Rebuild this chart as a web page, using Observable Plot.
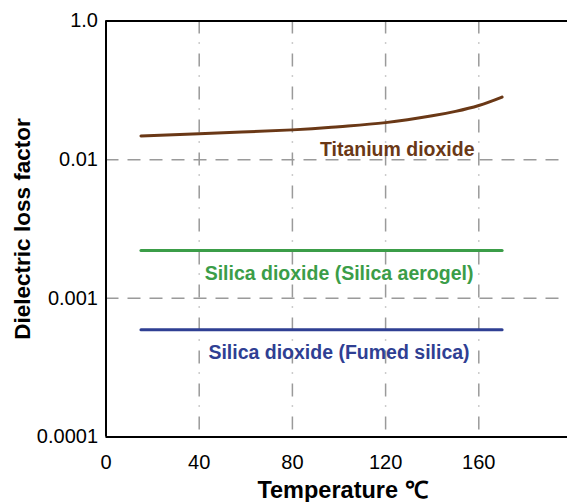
<!DOCTYPE html>
<html>
<head>
<meta charset="utf-8">
<script src="https://cdn.jsdelivr.net/npm/d3@7"></script>
<script src="https://cdn.jsdelivr.net/npm/@observablehq/plot@0.6"></script>
<style>
  body { margin: 0; background: #fff; }
  svg { font-family: "Liberation Sans", Arial, Helvetica, sans-serif; }
</style>
</head>
<body>
<div id="chart"></div>
<script>
// Dielectric loss factor versus temperature (°C)
const temperature = [15, 40, 80, 100, 120, 140, 150, 160, 170];
const titaniumDioxide = [0.0148, 0.0154, 0.0164, 0.0173, 0.0185, 0.0207, 0.0223, 0.0246, 0.0283];
const silicaTemperature = [15, 170];
const silicaAerogel = [0.00221, 0.00221];
const fumedSilica = [0.000593, 0.000593];

const seriesNames = ["Titanium dioxide", "Silica dioxide (Silica aerogel)", "Silica dioxide (Fumed silica)"];
const xTicks = [0, 40, 80, 120, 160];
const yTicks = [0.0001, 0.001, 0.01, 0.1];
const yTickLabels = ["0.0001", "0.001", "0.01", "1.0"];

const colors = { titania: "#6a3816", aerogel: "#3b9d48", fumed: "#2f3f93" };
const grid = "#9a9a9a";

const titania = temperature.map((t, i) => ({ t, v: titaniumDioxide[i] }));
const aerogel = silicaTemperature.map((t, i) => ({ t, v: silicaAerogel[i] }));
const fumed = silicaTemperature.map((t, i) => ({ t, v: fumedSilica[i] }));

const chart = Plot.plot({
  width: 567,
  height: 502,
  marginLeft: 105.5,
  marginRight: 0,
  marginTop: 20.5,
  marginBottom: 65.5,
  style: { fontFamily: '"Liberation Sans", Arial, Helvetica, sans-serif', background: "#fff" },
  x: { type: "linear", domain: [0, 200], range: [105.5, 571.5], axis: null },
  y: { type: "log", domain: [0.0001, 0.1], range: [436.5, 20.5], axis: null },
  marks: [
    // grid
    Plot.ruleX(xTicks.filter(d => d > 0), { stroke: grid, strokeWidth: 1.5, strokeDasharray: "13,9,1,10" }),
    Plot.ruleY(yTicks.slice(1, 3), { stroke: grid, strokeWidth: 1.5, strokeDasharray: "13,9" }),
    // frame (left, top, bottom)
    Plot.ruleX([0], { stroke: "#000", strokeWidth: 2 }),
    Plot.ruleY([yTicks[0], yTicks[3]], { stroke: "#000", strokeWidth: 2 }),
    // series
    Plot.line(titania, { x: "t", y: "v", stroke: colors.titania, strokeWidth: 3, curve: "natural" }),
    Plot.line(aerogel, { x: "t", y: "v", stroke: colors.aerogel, strokeWidth: 3 }),
    Plot.line(fumed, { x: "t", y: "v", stroke: colors.fumed, strokeWidth: 3 }),
    // series labels
    Plot.text([seriesNames[0]], { x: 125, y: yTicks[2], dy: -10, text: d => d, fill: colors.titania, fontSize: 19.5, fontWeight: "bold" }),
    Plot.text([seriesNames[1]], { x: 100, y: silicaAerogel[0], dy: 23, text: d => d, fill: colors.aerogel, fontSize: 19.5, fontWeight: "bold" }),
    Plot.text([seriesNames[2]], { x: 100, y: fumedSilica[0], dy: 23, text: d => d, fill: colors.fumed, fontSize: 19.5, fontWeight: "bold" }),
    // tick labels
    Plot.text(yTicks, { x: 0, y: d => d, text: (d, i) => yTickLabels[i], textAnchor: "end", dx: -8, fontSize: 20, fill: "#000" }),
    Plot.text(xTicks, { x: d => d, y: yTicks[0], dy: 26, text: d => String(d), fontSize: 20, fill: "#000" }),
    // axis titles
    Plot.text(["Temperature \u2103"], { x: 101.5, y: yTicks[0], dy: 53, text: d => d, fontSize: 23.5, fontWeight: "bold", fill: "#000" }),
    Plot.text(["Dielectric loss factor"], { x: 0, y: Math.sqrt(yTicks[0] * yTicks[3]), dx: -83.5, rotate: -90, text: d => d, fontSize: 22.5, fontWeight: "bold", fill: "#000" })
  ]
});

document.getElementById("chart").appendChild(chart);
</script>
</body>
</html>
